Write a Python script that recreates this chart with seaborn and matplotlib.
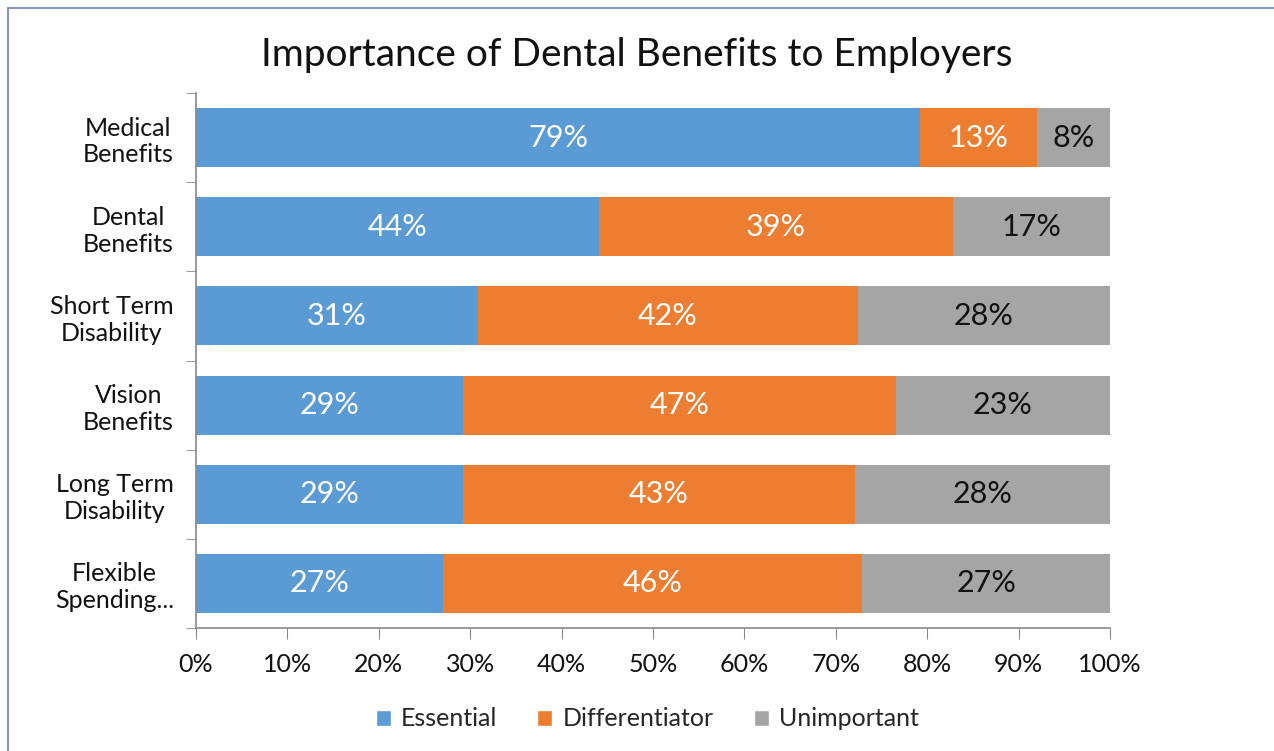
import numpy as np
import pandas as pd
import seaborn as sns
import matplotlib.pyplot as plt
from matplotlib.patches import Patch, Rectangle
from matplotlib.ticker import FixedLocator

categories = ["Medical\nBenefits", "Dental\nBenefits", "Short Term\nDisability",
              "Vision\nBenefits", "Long Term\nDisability", "Flexible\nSpending..."]
essential = [79.2, 44.1, 30.8, 29.2, 29.2, 27.0]
differentiator = [12.8, 38.7, 41.6, 47.4, 42.9, 45.9]
unimportant = [8.0, 17.2, 27.6, 23.4, 27.9, 27.1]

series = ["Essential", "Differentiator", "Unimportant"]
colors = ["#5B9BD5", "#ED7D31", "#A5A5A5"]
text_colors = ["white", "white", "#111111"]

sns.set_style("white")
plt.rcParams['font.family'] = ['Lato', 'DejaVu Sans']

df = pd.DataFrame({"category": categories, "Essential": essential,
                   "Differentiator": differentiator, "Unimportant": unimportant})
cum = df[series].cumsum(axis=1)

fig = plt.figure(figsize=(12.74, 7.51), dpi=100)
ax = fig.add_axes([196 / 1274, 1 - 628 / 751, (1110 - 196) / 1274, (628 - 93) / 751])

# stacked bars: draw cumulative totals from the back to the front
for name, col in reversed(list(zip(series, colors))):
    sns.barplot(x=cum[name], y=df["category"], color=col, width=0.66,
                orient="h", ax=ax, saturation=1, edgecolor="none")

# value labels
for i in range(len(df)):
    left = 0
    for name, tc in zip(series, text_colors):
        v = df.loc[i, name]
        ax.text(left + v / 2, i, f"{round(v):d}%", ha="center", va="center",
                color=tc, fontsize=22)
        left += v

ax.set_xlim(0, 100)
ax.set_ylim(5.5, -0.5)
ax.set_xticks(np.arange(0, 101, 10))
ax.set_xticklabels([f"{t}%" for t in range(0, 101, 10)], fontsize=18, color="#111111")
ax.set_ylabel("")
ax.set_xlabel("")
for lab in ax.get_yticklabels():
    lab.set_multialignment("center")
    lab.set_fontsize(18)
    lab.set_color("#111111")
ax.tick_params(axis="y", which="major", length=0, pad=16)
ax.yaxis.set_minor_locator(FixedLocator(np.arange(-0.5, 6, 1)))
ax.tick_params(axis="y", which="minor", length=7, color="#888888", direction="out", left=True)
ax.tick_params(axis="x", length=8, color="#888888", direction="out", bottom=True, pad=10)

sns.despine(ax=ax, top=True, right=True)
for s in ["left", "bottom"]:
    ax.spines[s].set_color("#888888")
    ax.spines[s].set_linewidth(1.2)

fig.text(0.5, 1 - 55 / 751, "Importance of Dental Benefits to Employers",
         ha="center", va="center", fontsize=28, color="#111111")

handles = [Patch(facecolor=c, label=n) for n, c in zip(series, colors)]
fig.legend(handles=handles, loc="center", bbox_to_anchor=(0.508, 1 - 719 / 751),
           ncol=3, frameon=False, fontsize=18, handlelength=0.6, handleheight=0.6,
           handletextpad=0.4, columnspacing=1.6)

fig.patches.append(Rectangle((8 / 1274, -0.1), 1.2, 1 - 8 / 751 + 0.1,
                             transform=fig.transFigure, fill=False,
                             edgecolor="#8a96b8", linewidth=1.5))

fig.savefig("out.png", dpi=100)
